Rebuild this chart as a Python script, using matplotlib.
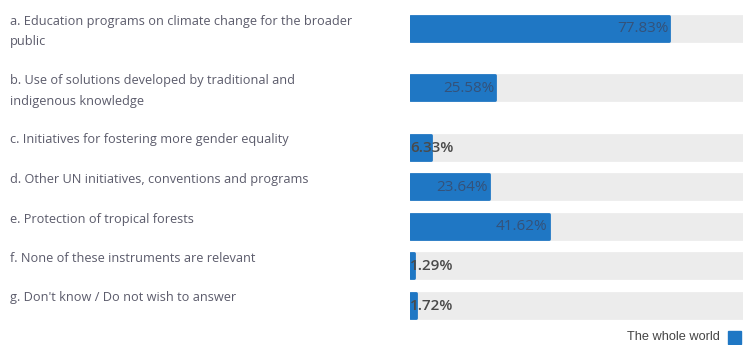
import matplotlib.pyplot as plt
from matplotlib.patches import Rectangle

plt.rcParams['font.family'] = ['Open Sans', 'DejaVu Sans']

# answer options and share of respondents (%)
answers = [
    "a. Education programs on climate change for the broader\npublic",
    "b. Use of solutions developed by traditional and\nindigenous knowledge",
    "c. Initiatives for fostering more gender equality",
    "d. Other UN initiatives, conventions and programs",
    "e. Protection of tropical forests",
    "f. None of these instruments are relevant",
    "g. Don't know / Do not wish to answer",
]
shares = [77.83, 25.58, 6.33, 23.64, 41.62, 1.29, 1.72]
series_name = "The whole world"

blue = '#1f77c4'
track = '#ececec'

W, H = 754, 345
fig = plt.figure(figsize=(W / 100, H / 100), dpi=100)
ax = fig.add_axes([410 / W, 0, 333 / W, 1])
ax.set_xlim(0, 100)
ax.set_ylim(H, 0)
ax.axis('off')

# row centres in pixels: two-line labels push the next row further down
rows = []
y = 28
for a in answers:
    rows.append(y)
    y += 39.5 + 20 * a.count('\n')

bh = 25
ax.barh(rows, [100] * len(rows), height=bh, color=track, edgecolor=track,
        linewidth=2, joinstyle='round')
ax.barh(rows, shares, height=bh, color=blue, edgecolor=blue,
        linewidth=2, joinstyle='round')

for yc, a, v in zip(rows, answers, shares):
    for i, line in enumerate(a.split('\n')):
        fig.text(10 / W, 1 - (yc - 7 + 21 * i) / H, line, fontsize=9.2,
                 color='#5b5b6b', va='center', ha='left')
    lab = f"{v:.2f}%"
    if v > 15:
        ax.text(v - 0.3, yc + 1, lab, ha='right', va='center', fontsize=11,
                color='#34527a')
    else:
        ax.text(0.0, yc + 1, lab, ha='left', va='center', fontsize=11,
                color='#4a4a4a', fontweight='semibold')

# legend entry at bottom right
fig.text(720 / W, 1 - 337 / H, series_name, ha='right', va='center',
         fontsize=9.2, color='#444444', family=['Liberation Sans', 'DejaVu Sans'])
fig.patches.append(Rectangle((728 / W, 1 - 344 / H), 13 / W, 13 / H,
                             transform=fig.transFigure, color=blue))

fig.savefig('out.png', dpi=100)
